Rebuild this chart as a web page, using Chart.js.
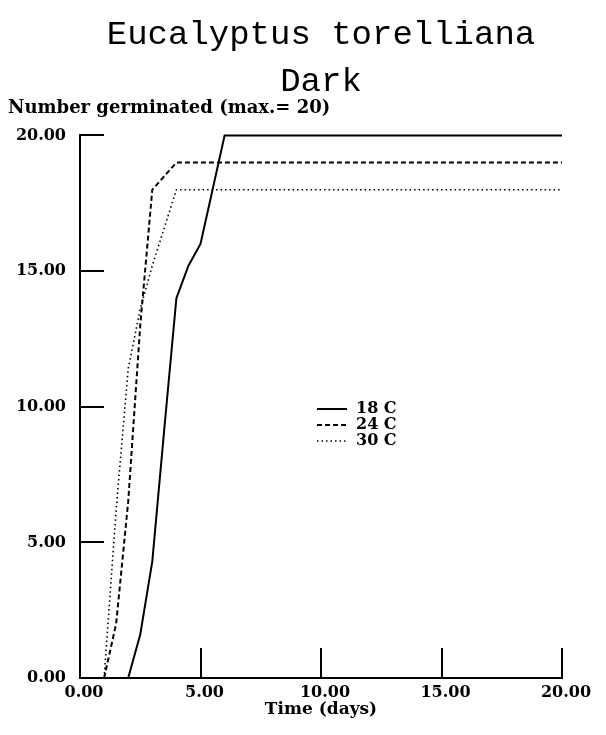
<!DOCTYPE html>
<html>
<head>
<meta charset="utf-8">
<title>Eucalyptus torelliana – Dark</title>
<script src="https://cdn.jsdelivr.net/npm/chart.js@4/dist/chart.umd.min.js"></script>
<style>
  html, body { margin: 0; padding: 0; background: #fff; }
  #wrap { width: 606px; height: 735px; }
</style>
</head>
<body>
<div id="wrap"><canvas id="chart" width="606" height="735"></canvas></div>
<script>
// Germination counts (out of 20 seeds) against time in days, one series per temperature
const seriesLabels = ['18 C', '24 C', '30 C'];

const days18 = [2, 2.5, 3, 3.5, 4, 4.5, 5, 6, 20];
const germ18 = [0, 1.6, 4.3, 9.2, 14.0, 15.2, 16.0, 20, 20];

const days24 = [1, 1.5, 2, 2.5, 3, 4, 20];
const germ24 = [0, 2.0, 6.5, 13.0, 18, 19, 19];

const days30 = [1, 1.5, 2, 2.5, 3, 3.5, 4, 20];
const germ30 = [0, 6.2, 11.4, 13.6, 15.2, 16.6, 18, 18];

const xTicks = [0, 5, 10, 15, 20];
const yTicks = [0, 5, 10, 15, 20];

const toPoints = (xs, ys) => xs.map((x, i) => ({ x: x, y: ys[i] }));

const SERIF = "'DejaVu Serif', 'Liberation Serif', serif";

// Tick marks drawn on the inside of the axes
const innerTicks = {
  id: 'innerTicks',
  afterDraw(chart) {
    const { ctx, chartArea, scales } = chart;
    ctx.save();
    ctx.strokeStyle = '#000';
    ctx.lineWidth = 2;
    ctx.beginPath();
    yTicks.filter(v => v > 0).forEach(v => {
      const y = Math.round(scales.y.getPixelForValue(v));
      ctx.moveTo(chartArea.left, y);
      ctx.lineTo(chartArea.left + 24, y);
    });
    xTicks.filter(v => v > 0).forEach(v => {
      const x = Math.round(scales.x.getPixelForValue(v));
      ctx.moveTo(x, chartArea.bottom);
      ctx.lineTo(x, chartArea.bottom - 30);
    });
    ctx.stroke();
    ctx.restore();
  }
};

// Key placed inside the plot area
const insideKey = {
  id: 'insideKey',
  afterDraw(chart) {
    const { ctx, chartArea } = chart;
    const x0 = chartArea.left + 237;
    const lineLen = 30;
    const y0 = 409;
    const rowH = 16;
    ctx.save();
    ctx.font = 'bold 16px ' + SERIF;
    ctx.textBaseline = 'middle';
    ctx.fillStyle = '#000';
    chart.data.datasets.forEach((ds, i) => {
      const y = y0 + i * rowH;
      ctx.beginPath();
      ctx.strokeStyle = '#000';
      ctx.lineWidth = ds.borderWidth;
      ctx.setLineDash(ds.borderDash || []);
      ctx.moveTo(x0, y);
      ctx.lineTo(x0 + lineLen, y);
      ctx.stroke();
      ctx.setLineDash([]);
      ctx.fillText(ds.label, x0 + lineLen + 9, y);
    });
    ctx.restore();
  }
};

new Chart(document.getElementById('chart'), {
  type: 'line',
  data: {
    datasets: [
      {
        label: seriesLabels[0],
        data: toPoints(days18, germ18),
        borderColor: '#000',
        borderWidth: 2,
        borderDash: [],
        pointRadius: 0,
        tension: 0,
        clip: false
      },
      {
        label: seriesLabels[1],
        data: toPoints(days24, germ24),
        borderColor: '#000',
        borderWidth: 2,
        borderDash: [5, 3],
        pointRadius: 0,
        tension: 0,
        clip: false
      },
      {
        label: seriesLabels[2],
        data: toPoints(days30, germ30),
        borderColor: '#000',
        borderWidth: 1.6,
        borderDash: [1.5, 3],
        pointRadius: 0,
        tension: 0,
        clip: false
      }
    ]
  },
  options: {
    responsive: false,
    animation: false,
    devicePixelRatio: 1,
    layout: { padding: { left: 8, right: 44, top: 0, bottom: 0 } },
    plugins: {
      legend: { display: false },
      tooltip: { enabled: false },
      title: {
        display: true,
        text: ['Eucalyptus torelliana', 'Dark'],
        fullSize: false,
        color: '#000',
        font: { family: "'Liberation Mono', 'DejaVu Sans Mono', monospace", size: 34, weight: 'normal', lineHeight: 1.38 },
        padding: { top: 12, bottom: 0 }
      },
      subtitle: {
        display: true,
        text: 'Number germinated (max.= 20)',
        align: 'start',
        color: '#000',
        font: { family: SERIF, size: 18, weight: 'bold', lineHeight: 1.2 },
        padding: { top: -8, bottom: 16 }
      }
    },
    scales: {
      x: {
        type: 'linear',
        min: 0,
        max: 20,
        afterBuildTicks(scale) { scale.ticks = xTicks.map(v => ({ value: v })); },
        afterFit(scale) { scale.height = 57; },
        grid: { display: false, drawTicks: false },
        border: { display: true, color: '#000', width: 2 },
        ticks: {
          color: '#000',
          padding: 5,
          labelOffset: 4,
          maxRotation: 0,
          autoSkip: false,
          font: { family: SERIF, size: 16, weight: 'bold' },
          callback: v => Number(v).toFixed(2)
        },
        title: {
          display: true,
          text: 'Time (days)',
          color: '#000',
          font: { family: SERIF, size: 17, weight: 'bold', lineHeight: 1.2 },
          padding: { top: 0, bottom: 15 }
        }
      },
      y: {
        type: 'linear',
        min: 0,
        max: 20,
        afterBuildTicks(scale) { scale.ticks = yTicks.map(v => ({ value: v })); },
        afterFit(scale) { scale.width = 72; },
        grid: { display: false, drawTicks: false },
        border: { display: true, color: '#000', width: 2 },
        ticks: {
          color: '#000',
          padding: 14,
          autoSkip: false,
          font: { family: SERIF, size: 16, weight: 'bold' },
          callback: v => Number(v).toFixed(2)
        }
      }
    }
  },
  plugins: [innerTicks, insideKey]
});
</script>
</body>
</html>
